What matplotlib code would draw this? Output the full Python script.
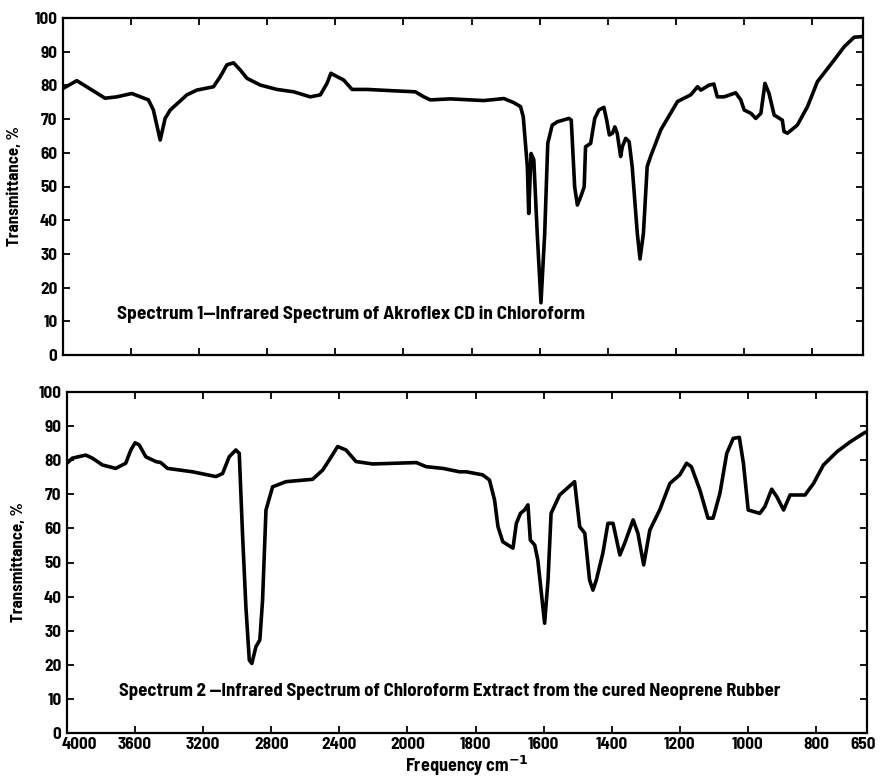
import matplotlib
matplotlib.use("Agg")
import matplotlib.pyplot as plt
import matplotlib.transforms as mtrans
import numpy as np
from matplotlib import font_manager

names = {f.name for f in font_manager.fontManager.ttflist}
FONT = "DejaVu Sans"
for cand in ["Barlow Semi Condensed", "Asap Condensed", "Barlow Condensed"]:
    if cand in names:
        FONT = cand
        break
plt.rcParams['font.family'] = [FONT, "DejaVu Sans"]

# ---- data -----------------------------------------------------------
freq1 = [4000, 3919, 3861, 3753, 3684, 3596, 3498, 3469, 3429, 3400, 3370, 3272, 3214,
         3116, 3076, 3037, 2998, 2959, 2919, 2841, 2743, 2645, 2547, 2488, 2449, 2426,
         2390, 2351, 2302, 2214, 2057, 1965, 1940, 1921, 1862, 1764, 1734, 1705, 1676,
         1656, 1648, 1636, 1632, 1625, 1617, 1607, 1596, 1585, 1576, 1563, 1548, 1514,
         1507, 1497, 1489, 1479, 1469, 1465, 1450, 1438, 1426, 1411, 1403, 1395, 1386,
         1379, 1372, 1362, 1357, 1347, 1337, 1328, 1313, 1305, 1295, 1284, 1274, 1244,
         1195, 1156, 1136, 1126, 1102, 1088, 1078, 1058, 1024, 1009, 999, 979, 965, 950,
         938, 926, 911, 887, 882, 872, 843, 813, 784, 735, 705, 676, 650]
trans1 = [79.1, 81.4, 79.6, 76.2, 76.6, 77.6, 75.7, 72.7, 63.8, 70.2, 72.7, 77.2, 78.6,
          79.6, 82.6, 86.1, 86.7, 84.6, 82.1, 80.1, 78.8, 78.1, 76.6, 77.2, 80.6, 83.6,
          82.6, 81.6, 78.8, 78.8, 78.4, 78.1, 76.6, 75.7, 76.0, 75.5, 75.8, 76.1, 74.9,
          73.7, 70.7, 55.9, 42.0, 59.8, 57.9, 36.1, 15.5, 36.1, 62.8, 68.2, 69.2, 70.2,
          69.7, 49.9, 44.5, 47.0, 49.9, 61.8, 62.8, 70.2, 72.7, 73.5, 69.7, 65.3, 65.8,
          67.7, 65.8, 58.9, 61.8, 64.3, 63.3, 55.9, 36.1, 28.5, 36.1, 55.9, 58.9, 66.8,
          75.2, 77.2, 79.6, 78.6, 80.1, 80.4, 76.6, 76.6, 77.8, 75.7, 72.7, 71.7, 70.2, 71.7,
          80.6, 77.6, 71.2, 69.7, 66.3, 65.8, 68.2, 73.7, 81.1, 87.5, 91.5, 94.3, 94.5]

freq2 = [4000, 3969, 3890, 3851, 3792, 3714, 3655, 3625, 3600, 3576, 3537, 3478, 3449,
         3410, 3263, 3125, 3086, 3047, 3008, 2988, 2969, 2949, 2929, 2914, 2890, 2867,
         2851, 2831, 2792, 2714, 2557, 2498, 2459, 2410, 2361, 2302, 2204, 1974, 1945,
         1896, 1847, 1827, 1779, 1759, 1744, 1734, 1720, 1690, 1680, 1668, 1656, 1646,
         1639, 1626, 1617, 1597, 1587, 1578, 1553, 1509, 1494, 1479, 1465, 1455, 1445,
         1426, 1411, 1396, 1376, 1362, 1337, 1323, 1306, 1288, 1259, 1229, 1200, 1180,
         1166, 1141, 1117, 1102, 1082, 1062, 1043, 1025, 1013, 999, 965, 950, 930, 915,
         895, 876, 832, 807, 778, 738, 699, 660, 650]
trans2 = [79.1, 80.6, 81.5, 80.6, 78.6, 77.6, 79.1, 83.0, 85.1, 84.5, 81.0, 79.6, 79.3,
          77.6, 76.6, 75.2, 76.1, 81.0, 83.0, 82.0, 58.6, 37.0, 21.4, 20.4, 25.3, 27.3,
          39.0, 65.4, 72.2, 73.7, 74.4, 77.1, 80.1, 84.0, 83.0, 79.6, 78.9, 79.3, 78.1,
          77.6, 76.6, 76.6, 75.7, 74.2, 68.3, 60.5, 56.1, 54.2, 61.5, 64.4, 65.4, 66.9,
          56.6, 55.1, 50.7, 32.2, 44.9, 64.4, 69.8, 73.7, 60.5, 58.6, 44.9, 41.9, 44.9,
          52.7, 61.5, 61.5, 52.2, 55.6, 62.5, 58.6, 49.3, 59.5, 65.4, 73.2, 75.7, 79.1,
          78.1, 71.3, 63.0, 63.0, 70.3, 82.0, 86.4, 86.7, 79.1, 65.4, 64.4, 66.4, 71.5, 69.3,
          65.4, 69.8, 69.8, 73.2, 78.6, 82.5, 85.4, 87.9, 88.4]

xticks = [4000, 3600, 3200, 2800, 2400, 2000, 1800, 1600, 1400, 1200, 1000, 800, 650]
yticks = [0, 10, 20, 30, 40, 50, 60, 70, 80, 90, 100]
title1 = "Spectrum 1\u2014Infrared Spectrum of Akroflex CD in Chloroform"
title2 = "Spectrum 2 \u2014Infrared Spectrum of Chloroform Extract from the cured Neoprene Rubber"
ylab = "Transmittance, %"
xlab = "Frequency cm$^{\\mathbf{-1}}$"

# ---- scale: 4000-2000 compressed 2x relative to 2000-650 -------------
def fwd(x):
    x = np.asarray(x, dtype=float)
    return np.where(x > 2000, 2000 + (x - 2000) / 2.0, x)

def inv(y):
    y = np.asarray(y, dtype=float)
    return np.where(y > 2000, 2000 + (y - 2000) * 2.0, y)

W, H = 880, 777
fig = plt.figure(figsize=(W / 100, H / 100), dpi=100)
r = fig.canvas.get_renderer()

def fit_size(s, target_px, base=12, weight='bold'):
    t = fig.text(0, 0, s, fontsize=base, fontweight=weight)
    w = t.get_window_extent(r).width
    t.remove()
    return base * target_px / w

TS = fit_size("100", 23)
YS = fit_size(ylab, 120)
XS = fit_size("Frequency cm$^{-1}$", 123)
C1 = fit_size(title1, 468)
C2 = fit_size(title2, 663)

ax1 = fig.add_axes([63 / W, 1 - 355 / H, 800 / W, 337 / H])
ax2 = fig.add_axes([67 / W, 1 - 733 / H, 800 / W, 341 / H])

for ax, f, t in ((ax1, freq1, trans1), (ax2, freq2, trans2)):
    ax.set_xscale('function', functions=(fwd, inv))
    ax.plot(f, t, color='black', lw=2.6, solid_joinstyle='round', solid_capstyle='round')
    ax.set_xlim(4000, 650)
    ax.set_ylim(0, 100)
    ax.set_xticks(xticks)
    ax.set_yticks(yticks)
    ax.minorticks_off()
    ax.tick_params(direction='in', length=5, width=1.3, top=True, right=True,
                   labelsize=TS, pad=4)
    for lab in ax.get_yticklabels():
        lab.set_fontweight('bold')
    for s in ax.spines.values():
        s.set_linewidth(1.6)
    ax.set_ylabel(ylab, fontsize=YS, fontweight='bold', labelpad=9)

ax1.set_xticklabels([])
ax2.set_xticklabels([str(v) for v in xticks], fontweight='bold')
ax2.tick_params(axis='x', pad=3)
ax2.set_xlabel(xlab, fontsize=XS, fontweight='bold', labelpad=1)
xl = ax2.get_xticklabels()
xl[0].set_transform(xl[0].get_transform() + mtrans.ScaledTranslation(12 / 100, 0, fig.dpi_scale_trans))
xl[-1].set_transform(xl[-1].get_transform() + mtrans.ScaledTranslation(-4 / 100, 0, fig.dpi_scale_trans))

ax1.text(117 / W, 1 - 314 / H, title1, fontsize=C1, fontweight='bold', ha='left',
         va='center', transform=fig.transFigure)
ax2.text(119 / W, 1 - 692 / H, title2, fontsize=C2, fontweight='bold', ha='left',
         va='center', transform=fig.transFigure)

fig.savefig("out.png", dpi=100)
